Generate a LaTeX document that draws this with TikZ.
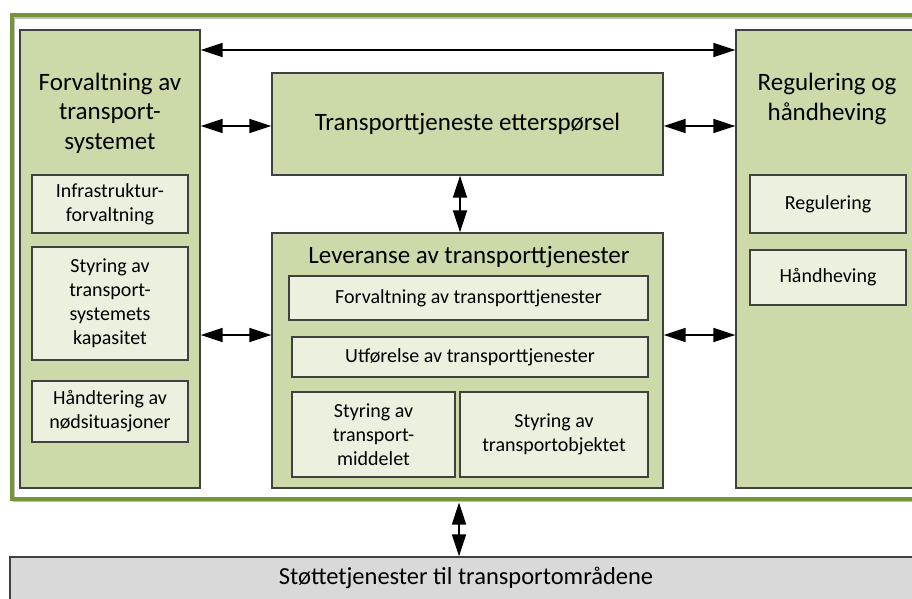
\documentclass[tikz,border=0pt]{standalone}
\usepackage{fontspec}
\setmainfont{Carlito}
\usetikzlibrary{arrows.meta}
\definecolor{olivegreen}{RGB}{119,147,60}
\definecolor{boxgreen}{RGB}{204,218,170}
\definecolor{subgreen}{RGB}{235,241,222}
\definecolor{edgegray}{RGB}{64,64,64}
\definecolor{supgray}{RGB}{217,217,217}
\begin{document}
\begin{tikzpicture}[x=1pt,y=-1pt,
 bigbox/.style={draw=edgegray, line width=1.3pt, fill=boxgreen, inner sep=0pt},
 subbox/.style={draw=edgegray, line width=1.3pt, fill=subgreen, inner sep=0pt, align=center, font=\fontsize{20}{24}\selectfont},
 titletext/.style={align=center, font=\fontsize{25}{29.5}\selectfont, inner sep=0pt},
 arr/.style={line width=1.6pt, {Triangle[length=22pt,width=14pt]}-{Triangle[length=22pt,width=14pt]}}]
\useasboundingbox (0,0) rectangle (912,599);
% outer frame with faint shadow
\draw[black!25, line width=2pt] (14,18) rectangle (942,501);
\node[draw=olivegreen, line width=4pt, minimum width=928pt, minimum height=483pt, inner sep=0pt] (F) at (476,257) {};
% left column
\node[bigbox, minimum width=180pt, minimum height=458pt] (L) at (110,259) {};
\node[titletext] (Lt) at (110,113) {Forvaltning av\\transport-\\systemet};
\node[subbox, minimum width=156pt, minimum height=58pt] (L1) at (110,204) {Infrastruktur-\\forvaltning};
\node[subbox, minimum width=156pt, minimum height=113pt] (L2) at (110,303.5) {Styring av\\transport-\\systemets\\kapasitet};
\node[subbox, minimum width=156pt, minimum height=61pt] (L3) at (110,411.5) {Håndtering av\\nødsituasjoner};
% centre
\node[bigbox, minimum width=391pt, minimum height=102pt, font=\fontsize{25}{29.5}\selectfont] (T) at (467.5,124) {Transporttjeneste etterspørsel};
\node[bigbox, minimum width=391pt, minimum height=255pt] (M) at (467.5,360.5) {};
\node[titletext] (Mt) at (469,257) {Leveranse av transporttjenester};
\node[subbox, minimum width=359pt, minimum height=44pt] (M1) at (468.5,298) {Forvaltning av transporttjenester};
\node[subbox, minimum width=356pt, minimum height=40pt] (M2) at (470,357) {Utførelse av transporttjenester};
\node[subbox, minimum width=163pt, minimum height=85pt] (M3) at (373.5,434.5) {Styring av\\transport-\\middelet};
\node[subbox, minimum width=188pt, minimum height=85pt] (M4) at (554,434.5) {Styring av\\transportobjektet};
% right column
\node[bigbox, minimum width=194pt, minimum height=458pt] (R) at (833,259) {};
\node[titletext] (Rt) at (827,99) {Regulering og\\håndheving};
\node[subbox, minimum width=156pt, minimum height=58pt] (R1) at (828,204) {Regulering};
\node[subbox, minimum width=156pt, minimum height=55pt] (R2) at (828,277.5) {Håndheving};
% support box
\node[draw=edgegray, line width=1.3pt, fill=supgray, minimum width=930pt, minimum height=70pt, inner sep=0pt] (S) at (475,592) {};
\node[inner sep=0pt, font=\fontsize{24.5}{29}\selectfont] (St) at (466,578) {Støttetjenester til transportområdene};
% connectors
\draw[arr] (L.east |- 0,50) -- (R.west |- 0,50);
\draw[arr] (L.east |- 0,126) -- (T.west |- 0,126);
\draw[arr] (T.east |- 0,126) -- (R.west |- 0,126);
\draw[arr] (L.east |- 0,335) -- (M.west |- 0,335);
\draw[arr] (M.east |- 0,335) -- (R.west |- 0,335);
\draw[arr] (T.south -| 460,0) -- (M.north -| 460,0);
\draw[arr] ([yshift=-2pt]F.south -| 459,0) -- (S.north -| 459,0);
\end{tikzpicture}
\end{document}
